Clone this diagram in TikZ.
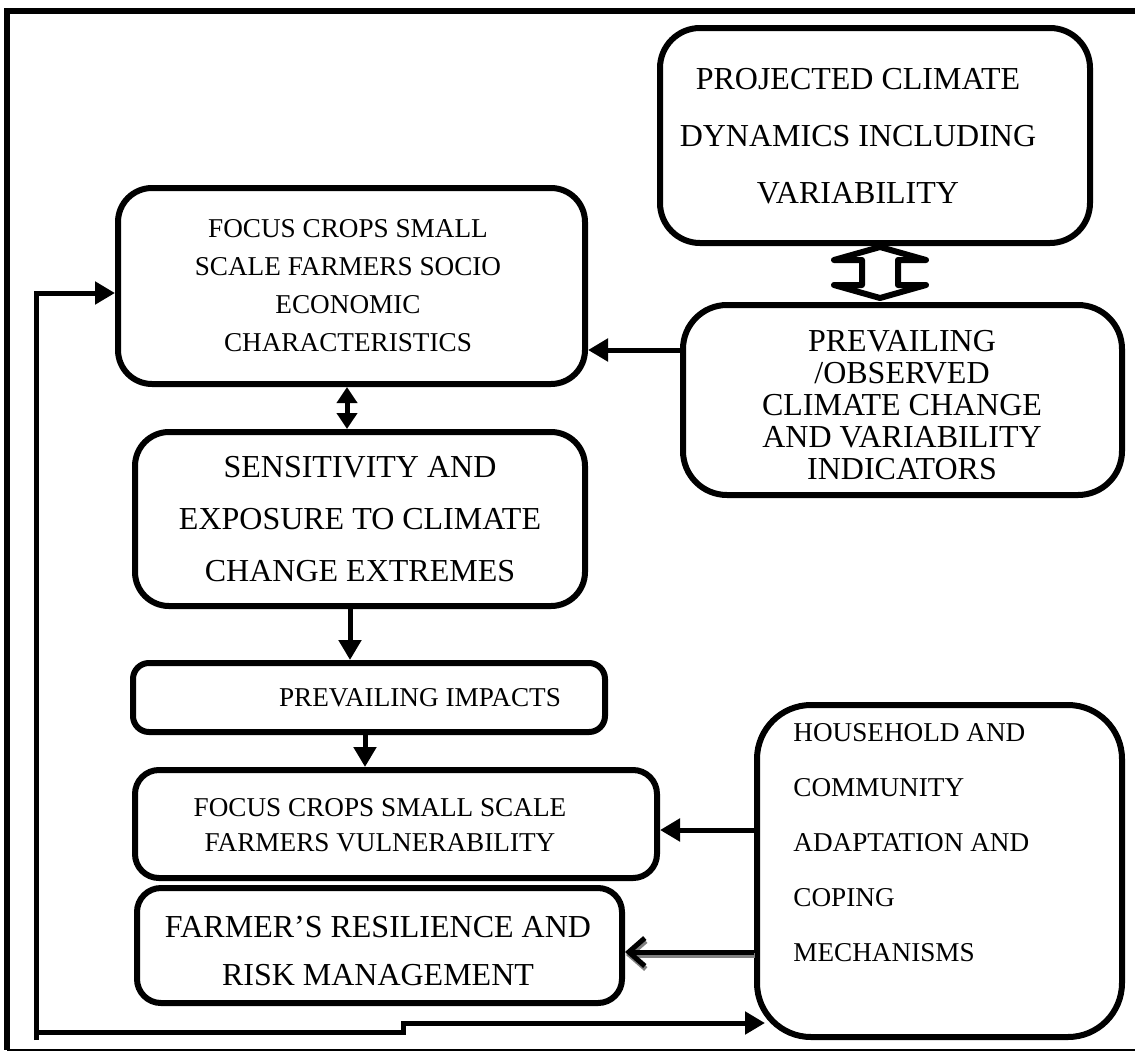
\documentclass[tikz,border=0pt]{standalone}
\usepackage{fontspec}
\setmainfont{Liberation Serif}
\usetikzlibrary{arrows.meta}

\tikzset{
  panel/.style={draw, line width=3pt, rounded corners=#1, inner sep=0pt},
  bigtxt/.style={font=\fontsize{16}{#1}\selectfont, align=center, inner sep=0pt},
  smalltxt/.style={font=\fontsize{13.6}{#1}\selectfont, align=center, inner sep=0pt},
  link/.style={line width=2.5pt, -{Triangle[length=10pt,width=11pt]}},
  twoway/.style={line width=2.5pt, {Triangle[length=8pt,width=10pt]}-{Triangle[length=8pt,width=10pt]}},
}

\begin{document}
\begin{tikzpicture}[x=0.5pt, y=-0.5pt]
        \useasboundingbox (0,0) rectangle (1135,1055);
        % page frame
        \draw[line width=3pt] (1135,11) -- (7,11) -- (7,1050);
        \draw[line width=1pt] (7,1050) -- (1135,1050);
        % boxes
        \node[panel=20pt, minimum width=215pt, minimum height=107.5pt] (proj) at (875,135.5) {};
        \node[panel=17pt, minimum width=233.5pt, minimum height=98pt] (socio) at (351.5,286) {};
        \node[panel=22pt, minimum width=219.5pt, minimum height=95pt] (obs) at (902.5,400) {};
        \node[panel=17pt, minimum width=225pt, minimum height=87pt] (sens) at (360,519) {};
        \node[panel=8pt, minimum width=236pt, minimum height=34.5pt] (imp) at (369,697.5) {};
        \node[panel=12pt, minimum width=261pt, minimum height=54pt] (vuln) at (396,824) {};
        \node[panel=12pt, minimum width=242.5pt, minimum height=57.5pt] (resil) at (379.5,945.5) {};
        \node[panel=27pt, minimum width=182.5pt, minimum height=166pt] (adapt) at (939.5,871) {};
        % texts
        \node[bigtxt=28.5pt] (projtxt) at (858,136) {PROJECTED CLIMATE\\DYNAMICS INCLUDING\\VARIABILITY};
        \node[smalltxt=19pt] (sociotxt) at (348,286) {FOCUS CROPS SMALL\\SCALE FARMERS SOCIO\\ECONOMIC\\CHARACTERISTICS};
        \node[bigtxt=16pt] (obstxt) at (902,405) {PREVAILING\\/OBSERVED\\CLIMATE CHANGE\\AND VARIABILITY\\INDICATORS};
        \node[bigtxt=26pt] (senstxt) at (360,519) {SENSITIVITY AND\\EXPOSURE TO CLIMATE\\CHANGE EXTREMES};
        \node[smalltxt=16pt] (imptxt) at (420,697.5) {PREVAILING IMPACTS};
        \node[smalltxt=17.5pt] (vulntxt) at (380,825) {FOCUS CROPS SMALL SCALE\\FARMERS VULNERABILITY};
        \node[bigtxt=24pt] (resiltxt) at (378,951) {FARMER’S RESILIENCE AND\\RISK MANAGEMENT};
        \node[smalltxt=27.5pt, align=left, anchor=west] (adapttxt) at (793,843) {HOUSEHOLD AND\\COMMUNITY\\ADAPTATION AND\\COPING\\MECHANISMS};
        % hollow up-down arrow
        \coordinate (dtop) at (880,247);
        \coordinate (dbot) at (880,298);
        \draw[line width=3pt, line join=round, fill=white] (dtop) -- ++(46,13) -- ++(-28,0) -- ++(0,25) -- ++(28,0) -- (dbot) -- ++(-46,-13) -- ++(28,0) -- ++(0,-25) -- ++(-28,0) -- cycle;
        % connectors
        \draw[link] (obs.west |- 0,350) -- (socio.east |- 0,350);
        \draw[twoway] (socio.south -| 347,0) -- (sens.north -| 347,0);
        \draw[link] (sens.south -| 350,0) -- (imp.north -| 350,0);
        \draw[link] (imp.south -| 365,0) -- (vuln.north -| 365,0);
        \draw[link] (adapt.west |- 0,830) -- (vuln.east |- 0,830);
        \draw[gray, line width=2.5pt, -{Straight Barb[length=8pt,width=14pt]}] ([shift={(0.5pt,-1.5pt)}]adapt.west |- 0,952) -- ([shift={(0.5pt,-1.5pt)}]resil.east |- 0,952);
        \draw[line width=2.5pt, -{Straight Barb[length=8pt,width=14pt]}] (adapt.west |- 0,952) -- (resil.east |- 0,952);
        % feedback loop
        \coordinate (corner) at (36,1032);
        \draw[link] (36,1040) -- (36,293) -- (socio.west |- 0,293);
        \draw[link] (corner) -| (403,1023) -- (765,1023);
      \end{tikzpicture}
\end{document}
